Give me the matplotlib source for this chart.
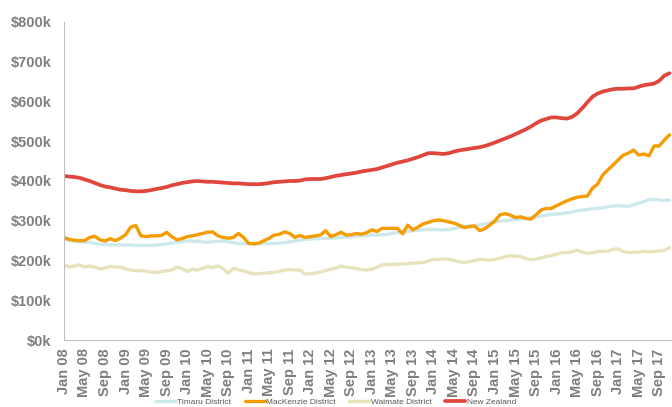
import numpy as np
import pandas as pd
import matplotlib
matplotlib.use('Agg')
from matplotlib import pyplot as plt

# monthly median house values, $k, Jan 2008 - Nov 2017
months = pd.date_range('2008-01-01', periods=119, freq='MS').strftime('%b %y').tolist()

timaru = [253, 251, 249, 247, 246, 245, 243, 241, 240, 239, 239, 239,
          239, 239, 238, 238, 238, 238, 239, 240, 242, 244, 246, 247,
          249, 249, 248, 247, 246, 247, 248, 249, 247, 245, 243, 242,
          242, 241, 242, 243, 243, 243, 244, 245, 247, 249, 251, 253,
          254, 255, 255, 256, 256, 257, 258, 259, 260, 261, 262, 263,
          264, 264, 265, 266, 268, 270, 272, 273, 275, 276, 277, 278,
          278, 277, 277, 278, 280, 283, 285, 287, 288, 289, 292, 295,
          298, 299, 300, 302, 303, 304, 306, 308, 310, 312, 314, 316,
          317, 318, 320, 322, 325, 327, 328, 330, 331, 333, 335, 337,
          338, 337, 336, 340, 344, 348, 353, 354, 352, 351, 352]

mackenzie = [258, 253, 251, 250, 250, 258, 261, 252, 249, 255, 250, 256,
             265, 284, 288, 262, 260, 262, 262, 263, 271, 260, 252, 255,
             260, 262, 265, 268, 271, 272, 262, 258, 256, 258, 268, 258,
             243, 242, 244, 250, 256, 264, 266, 272, 268, 258, 263, 258,
             260, 262, 264, 275, 260, 265, 271, 264, 265, 268, 266, 270,
             277, 273, 281, 281, 281, 281, 267, 289, 277, 284, 292, 296,
             300, 302, 300, 297, 294, 289, 283, 285, 287, 275, 280, 289,
             300, 315, 318, 314, 308, 310, 306, 304, 315, 327, 331, 331,
             338, 344, 350, 355, 359, 361, 362, 382, 392, 415, 428, 440,
             453, 465, 470, 478, 465, 468, 463, 488, 488, 503, 516]

waimate = [189, 184, 186, 189, 184, 186, 183, 179, 181, 185, 184, 183,
           179, 176, 174, 175, 173, 171, 170, 172, 174, 176, 183, 180,
           172, 178, 176, 180, 185, 182, 186, 180, 168, 180, 177, 174,
           170, 166, 167, 168, 169, 170, 173, 176, 177, 176, 176, 166,
           167, 168, 171, 175, 178, 181, 186, 183, 182, 180, 177, 176,
           178, 183, 189, 190, 190, 191, 191, 192, 193, 194, 195, 199,
           203, 202, 204, 203, 200, 197, 195, 197, 200, 203, 202, 201,
           203, 206, 210, 212, 211, 210, 205, 202, 203, 207, 210, 213,
           216, 219, 220, 222, 226, 221, 218, 219, 223, 223, 224, 228,
           229, 222, 220, 221, 221, 223, 222, 223, 224, 225, 232]

new_zealand = [413, 411, 410, 408, 404, 400, 395, 390, 386, 384, 381, 378,
               377, 375, 374, 374, 375, 377, 380, 382, 385, 389, 392, 395,
               397, 399, 400, 399, 398, 398, 397, 396, 395, 394, 394, 393,
               392, 392, 392, 393, 395, 397, 398, 399, 400, 400, 401, 404,
               405, 405, 405, 407, 410, 413, 415, 417, 419, 421, 424, 426,
               428, 430, 434, 438, 442, 446, 449, 452, 456, 460, 465, 470,
               470, 469, 468, 470, 474, 477, 479, 481, 483, 485, 488, 492,
               497, 502, 507, 512, 518, 524, 530, 537, 545, 552, 556, 560,
               560, 558, 557, 561, 570, 583, 598, 612, 620, 625, 628, 631,
               632, 632, 633, 633, 637, 641, 643, 645, 652, 665, 671]

y_ticks = [0, 100, 200, 300, 400, 500, 600, 700, 800]

grey = '#7f7f7f'
plt.rcParams['font.family'] = ['Liberation Sans', 'DejaVu Sans']

fig = plt.figure(figsize=(6.72, 4.07), dpi=100)
ax = fig.add_axes([0.0952, 0.1646, 0.9048, 0.7814])

x = np.arange(len(months))
ax.plot(x, timaru, color='#cde9ec', lw=2.4, label='Timaru District', solid_capstyle='round')
ax.plot(x, mackenzie, color='#f59c00', lw=2.4, label='MacKenzie District', solid_capstyle='round')
ax.plot(x, waimate, color='#e7e3bd', lw=2.4, label='Waimate District', solid_capstyle='round')
ax.plot(x, new_zealand, color='#e0463c', lw=2.7, label='New Zealand', solid_capstyle='round')

ax.set_xlim(0, 118.5)
ax.set_ylim(0, 800)
ax.set_yticks(y_ticks)
ax.set_yticklabels(['$%dk' % v for v in y_ticks], fontsize=10.5, fontweight='bold', color=grey)
ax.set_xticks(x[::4])
ax.set_xticklabels(months[::4], rotation=90, fontsize=10.5, fontweight='bold', color=grey)
ax.tick_params(axis='y', length=0, pad=9)
ax.tick_params(axis='x', length=0, pad=6)

for s in ['top', 'right']:
    ax.spines[s].set_visible(False)
ax.spines['left'].set_color('#bfbfbf')
ax.spines['bottom'].set_color('#bfbfbf')

fig.legend(loc='lower center', bbox_to_anchor=(0.5, -0.016), ncol=4, frameon=False,
           fontsize=6, handlelength=2.4, handletextpad=0.2, columnspacing=1.6,
           labelcolor='#595959')

fig.savefig('out.png', dpi=100)
